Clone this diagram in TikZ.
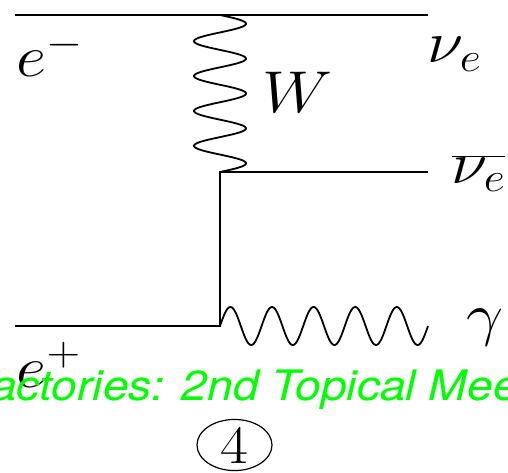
\RequirePackage{fix-cm}
\documentclass[tikz,border=0pt]{standalone}
\usepackage{fontspec}
\newfontfamily\herosfont{TeX Gyre Heros}
\usetikzlibrary{positioning, shapes.geometric}
\newcommand{\widen}[2][1.12]{\scalebox{#1}[1]{#2}}

\begin{document}
\begin{tikzpicture}[x=1pt, y=-1pt,
      line width=1.8pt,
      wave/.style={smooth, samples=180, line join=round},
      lbl/.style={anchor=base west, inner sep=0pt, font=\fontsize{59}{64}\selectfont},
      banner/.style={anchor=base west, inner sep=0pt, text=green,
                     font=\herosfont\itshape\fontsize{42}{48}\selectfont},
  ]
    \useasboundingbox (0,0) rectangle (508,473);
    \clip (0,0) rectangle (508,473);

    % vertices and free ends
    \coordinate (ein)      at (15,15);
    \coordinate (wtop)     at (220,15);
    \coordinate (nuout)    at (428,15);
    \coordinate (wbot)     at (220,172);
    \coordinate (nubarout) at (428,172);
    \coordinate (pin)      at (15,326);
    \coordinate (vgam)     at (220,326);
    \coordinate (gamout)   at (428,326);

    \draw (ein) -- (nuout);
    % W propagator: 4.5 periods from wtop down to wbot
    \draw[shift={(wtop)}] plot[wave, domain=0:157] ({26*sin(10.318*\x)}, \x);
    \draw (nubarout) -- (wbot) -- (vgam) -- (pin);
    % photon: 5 periods from vgam to gamout
    \draw[shift={(vgam)}] plot[wave, domain=0:208] (\x, {-19*sin(8.654*\x)});

    \node[lbl] (lem)   at (16,77)   {\widen{$e^-$}};
    \node[lbl] (lnu)   at (427,63)  {\widen{$\nu_e$}};
    \node[lbl] (lw)    at (262,113) {\widen{$W$}};
    \node[lbl] (lnub)  at (451,183) {\widen{$\overline{\nu_e}$}};
    \node[lbl] (lgam)  at (466,334) {\widen{$\gamma$}};
    \node[lbl] (lep)   at (16,387)  {\widen{$e^+$}};

    \node[banner] (ban) at (-36,400) {\widen[1.1]{Factories: 2nd Topical Mee}};

    \node[draw, ellipse, line width=1.2pt, minimum width=75pt, minimum height=51pt,
          inner sep=0pt, font=\fontsize{54}{60}\selectfont] (pagenum) at (234.5,445) {\widen{4}};
  \end{tikzpicture}
\end{document}
